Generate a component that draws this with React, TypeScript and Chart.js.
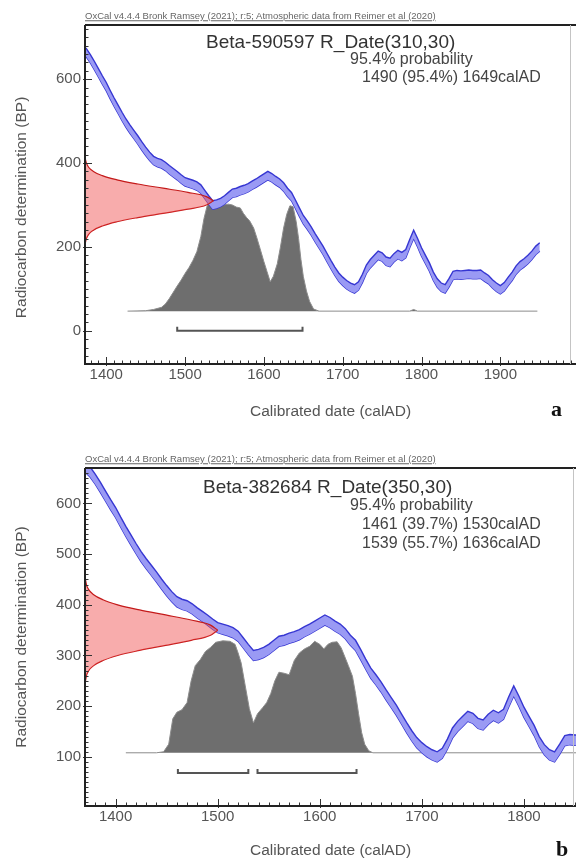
import React, { useEffect, useRef } from 'react';
import { Chart, registerables } from 'chart.js';

Chart.register(...registerables);

const SANS = '"Liberation Sans", Arial, Helvetica, sans-serif';
const SERIF = '"Liberation Serif", "Times New Roman", serif';

// ---------------- IntCal20 calibration curve ----------------
const curveYears = [
  1370, 1375, 1380, 1385, 1390, 1395, 1400, 1405, 1410, 1415, 1420, 1425, 1430, 1435, 1440, 1445,
  1450, 1455, 1460, 1465, 1470, 1475, 1480, 1485, 1490, 1495, 1500, 1505, 1510, 1515, 1520, 1525,
  1530, 1535, 1540, 1545, 1550, 1555, 1560, 1565, 1570, 1575, 1580, 1585, 1590, 1595, 1600, 1605,
  1610, 1615, 1620, 1625, 1630, 1635, 1640, 1645, 1650, 1655, 1660, 1665, 1670, 1675, 1680, 1685,
  1690, 1695, 1700, 1705, 1710, 1715, 1720, 1725, 1730, 1735, 1740, 1745, 1750, 1755, 1760, 1765,
  1770, 1775, 1780, 1785, 1790, 1795, 1800, 1805, 1810, 1815, 1820, 1825, 1830, 1835, 1840, 1845,
  1850, 1855, 1860, 1865, 1870, 1875, 1880, 1885, 1890, 1895, 1900, 1905, 1910, 1915, 1920, 1925,
  1930, 1935, 1940, 1945, 1950,
];
const curveBP = [
  672, 662, 648, 632, 615, 598, 582, 563, 545, 528, 511, 495, 481, 468, 455, 441,
  428, 416, 406, 401, 398, 392, 384, 377, 370, 362, 355, 352, 349, 345, 338, 325,
  312, 300, 302, 306, 312, 320, 328, 330, 334, 337, 341, 347, 352, 358, 364, 370,
  365, 358, 352, 343, 330, 320, 302, 283, 265, 252, 238, 222, 207, 192, 175, 158,
  142, 128, 118, 110, 104, 100, 107, 125, 147, 160, 170, 180, 176, 166, 163, 174,
  182, 177, 184, 208, 230, 210, 188, 170, 152, 130, 114, 104, 100, 115, 132, 134,
  133, 134, 135, 134, 134, 135, 128, 122, 112, 104, 98, 105, 118, 130, 145, 155,
  162, 170, 180, 192, 200,
];
const curveHalfWidth = 10; // 1-sigma band half width (BP)

// ---------------- Panel a: Beta-590597 R_Date(310,30) ----------------
const aXLabels = [1400, 1500, 1600, 1700, 1800, 1900];
const aYLabels = [0, 200, 400, 600];
const aDistYears = [
  1427, 1450, 1460, 1470, 1475, 1480, 1485, 1490, 1495, 1500, 1505, 1510, 1515, 1520, 1524, 1528,
  1532, 1540, 1548, 1555, 1560, 1565, 1570, 1574, 1578, 1582, 1587, 1591, 1595, 1600, 1604, 1608,
  1612, 1617, 1621, 1625, 1629, 1633, 1637, 1641, 1644, 1647, 1650, 1654, 1658, 1663, 1670, 1785,
  1790, 1795, 1947,
];
const aDistValues = [
  47, 48, 51, 56, 64, 77, 92, 107, 121, 137, 151, 168, 189, 225, 268, 298,
  306, 302, 300, 302, 300, 295, 293, 280, 270, 262, 245, 222, 197, 165, 141, 117,
  130, 160, 200, 245, 278, 298, 296, 260, 220, 170, 130, 95, 70, 52, 47, 47,
  51, 47, 47,
];
const aDistBase = 47;
// measured date 310 ± 30 BP, drawn as a profile on the BP axis (extent in years from the left axis)
const aRedLevels = [210, 220, 230, 240, 250, 260, 270, 280, 290, 300, 310, 320, 330, 340, 350, 360, 370, 380, 390, 400, 410];
const aRedExtent = [0.4, 1.8, 4.6, 10.7, 22, 40.5, 67, 99, 130.6, 154, 163, 154, 130.6, 99, 67, 40.5, 22, 10.7, 4.6, 1.8, 0.4];
const aRanges = [[1490, 1649]];
const aRangeLevel = 0;
const aTexts = ['Beta-590597 R_Date(310,30)', '95.4% probability', '1490 (95.4%) 1649calAD'];

// ---------------- Panel b: Beta-382684 R_Date(350,30) ----------------
const bXLabels = [1400, 1500, 1600, 1700, 1800];
const bYLabels = [100, 200, 300, 400, 500, 600];
const bDistYears = [
  1410, 1440, 1447, 1452, 1456, 1460, 1465, 1470, 1474, 1478, 1483, 1488, 1493, 1498, 1505, 1512,
  1517, 1520, 1523, 1527, 1531, 1535, 1539, 1544, 1548, 1552, 1556, 1560, 1565, 1570, 1575, 1580,
  1585, 1590, 1595, 1600, 1604, 1608, 1612, 1617, 1621, 1625, 1628, 1632, 1635, 1638, 1641, 1644,
  1648, 1652, 1950,
];
const bDistValues = [
  108, 108, 110, 125, 175, 188, 193, 207, 250, 280, 292, 308, 316, 326, 329, 328,
  322, 305, 285, 240, 195, 167, 185, 197, 207, 225, 250, 267, 265, 262, 290, 305,
  313, 318, 328, 322, 313, 322, 326, 327, 315, 295, 280, 259, 225, 185, 148, 125,
  112, 108, 108,
];
const bDistBase = 108;
const bRedLevels = [250, 260, 270, 280, 290, 300, 310, 320, 330, 340, 350, 360, 370, 380, 390, 400, 410, 420, 430, 440, 450];
const bRedExtent = [0.5, 1.4, 3.6, 8.5, 17.6, 32, 53.5, 79, 104, 123, 130, 123, 104, 79, 53.5, 32, 17.6, 8.5, 3.6, 1.4, 0.5];
const bRanges = [[1461, 1530], [1539, 1636]];
const bRangeLevel = 68;
const bTexts = ['Beta-382684 R_Date(350,30)', '95.4% probability', '1461 (39.7%) 1530calAD', '1539 (55.7%) 1636calAD'];

const HEADER = 'OxCal v4.4.4 Bronk Ramsey (2021); r:5; Atmospheric data from Reimer et al (2020)';
const X_TITLE = 'Calibrated date (calAD)';
const Y_TITLE = 'Radiocarbon determination (BP)';

type PanelCfg = {
  height: number;
  xMin: number; xMax: number; yMin: number; yMax: number;
  xLabels: number[]; yLabels: number[];
  xMinor: number; yMinor: number;
  distYears: number[]; distValues: number[]; distBase: number;
  redLevels: number[]; redExtent: number[];
  ranges: number[][]; rangeLevel: number; rangeTick: number;
  padTop: number; xAxisHeight: number; titleBottomPad: number; rightInset: number;
  yTitlePadEnd: number;
};

const framePlugin = {
  id: 'oxcalFrame',
  afterDraw(chart: any, _args: any, opts: any) {
    const { ctx, chartArea: a, scales } = chart;
    const x = scales.x;
    const y = scales.y;
    ctx.save();
    ctx.strokeStyle = '#333';
    ctx.lineWidth = 1;
    for (let v = Math.ceil(x.min / opts.xMinor) * opts.xMinor; v <= x.max; v += opts.xMinor) {
      const px = Math.round(x.getPixelForValue(v)) + 0.5;
      const major = v % 100 === 0;
      ctx.beginPath();
      ctx.moveTo(px, a.bottom + (major ? 2 : 0));
      ctx.lineTo(px, a.bottom - (major ? 7 : 3.5));
      ctx.stroke();
    }
    for (let v = Math.ceil(y.min / opts.yMinor) * opts.yMinor; v <= y.max; v += opts.yMinor) {
      const py = Math.round(y.getPixelForValue(v)) + 0.5;
      const major = opts.yLabels.includes(v);
      ctx.beginPath();
      ctx.moveTo(a.left - (major ? 2 : 0), py);
      ctx.lineTo(a.left + (major ? 7 : 3.5), py);
      ctx.stroke();
    }
    ctx.strokeStyle = '#222';
    ctx.lineWidth = 2;
    ctx.beginPath();
    ctx.moveTo(a.left, a.top);
    ctx.lineTo(a.right, a.top);
    ctx.stroke();
    ctx.beginPath();
    ctx.moveTo(a.left, a.top);
    ctx.lineTo(a.left, a.bottom);
    ctx.lineTo(a.right, a.bottom);
    ctx.stroke();
    ctx.strokeStyle = '#c4c4c4';
    ctx.lineWidth = 1;
    ctx.beginPath();
    ctx.moveTo(a.right - opts.rightInset + 0.5, a.top);
    ctx.lineTo(a.right - opts.rightInset + 0.5, a.bottom);
    ctx.stroke();
    ctx.restore();
  },
};

function buildConfig(p: PanelCfg): any {
  const band = curveYears.map((yr, i) => ({ x: yr, y: curveBP[i] }));
  // split the measurement profile at its peak into an upper and a lower edge (both ordered by year)
  const peak = p.redExtent.indexOf(Math.max(...p.redExtent));
  const redPts = p.redLevels.map((v, i) => ({ x: p.xMin + p.redExtent[i], y: v }));
  const redLower = redPts.slice(0, peak + 1);
  const redUpper = redPts.slice(peak).reverse();

  const datasets: any[] = [
    ...p.ranges.map(([s, e]) => ({
      data: [
        { x: s, y: p.rangeLevel + p.rangeTick },
        { x: s, y: p.rangeLevel },
        { x: e, y: p.rangeLevel },
        { x: e, y: p.rangeLevel + p.rangeTick },
      ],
      borderColor: '#555',
      borderWidth: 2,
      pointRadius: 0,
      fill: false,
      tension: 0,
    })),
    {
      data: redUpper,
      borderColor: '#c41a1a',
      borderWidth: 1.2,
      backgroundColor: 'rgba(240,70,70,0.45)',
      fill: '+1',
      cubicInterpolationMode: 'monotone',
      pointRadius: 0,
    },
    {
      data: redLower,
      borderColor: '#c41a1a',
      borderWidth: 1.2,
      fill: false,
      cubicInterpolationMode: 'monotone',
      pointRadius: 0,
    },
    {
      data: band.map((d) => ({ x: d.x, y: d.y + curveHalfWidth })),
      borderColor: '#3636d2',
      borderWidth: 1.4,
      backgroundColor: '#9a9af4',
      fill: '+1',
      pointRadius: 0,
      tension: 0,
    },
    {
      data: band.map((d) => ({ x: d.x, y: d.y - curveHalfWidth })),
      borderColor: '#3636d2',
      borderWidth: 1.4,
      fill: false,
      pointRadius: 0,
      tension: 0,
    },
    {
      data: p.distYears.map((yr, i) => ({ x: yr, y: p.distValues[i] })),
      borderColor: '#8c8c8c',
      borderWidth: 1,
      backgroundColor: '#6e6e6e',
      fill: { value: p.distBase },
      pointRadius: 0,
      tension: 0,
    },
  ];

  const tickFont = { family: SANS, size: 15 };
  const titleFont = { family: SANS, size: 15.5 };

  return {
    type: 'line',
    data: { datasets },
    plugins: [framePlugin],
    options: {
      animation: false,
      responsive: false,
      maintainAspectRatio: false,
      events: [],
      layout: { padding: { left: 0, right: 0, top: p.padTop, bottom: 0 } },
      plugins: {
        legend: { display: false },
        tooltip: { enabled: false },
        oxcalFrame: {
          xMinor: p.xMinor,
          yMinor: p.yMinor,
          yLabels: p.yLabels,
          rightInset: p.rightInset,
        },
      },
      elements: { point: { radius: 0 } },
      scales: {
        x: {
          type: 'linear',
          min: p.xMin,
          max: p.xMax,
          grid: { display: false, drawTicks: false },
          border: { display: false },
          afterBuildTicks: (s: any) => {
            s.ticks = p.xLabels.map((v) => ({ value: v }));
          },
          ticks: {
            autoSkip: false,
            maxRotation: 0,
            padding: 2,
            color: '#555',
            font: tickFont,
            callback: (v: number) => String(v),
          },
          title: {
            display: true,
            text: X_TITLE,
            color: '#555',
            font: titleFont,
            padding: { top: 0, bottom: p.titleBottomPad },
          },
          afterFit: (s: any) => {
            s.height = p.xAxisHeight;
          },
        },
        y: {
          type: 'linear',
          min: p.yMin,
          max: p.yMax,
          grid: { display: false, drawTicks: false },
          border: { display: false },
          afterBuildTicks: (s: any) => {
            s.ticks = p.yLabels.map((v) => ({ value: v }));
          },
          ticks: {
            autoSkip: false,
            padding: 4,
            color: '#555',
            font: tickFont,
            callback: (v: number) => String(v),
          },
          title: {
            display: true,
            text: Y_TITLE + ' '.repeat(p.yTitlePadEnd),
            color: '#555',
            font: titleFont,
            padding: { top: 12.6, bottom: 0 },
          },
          afterFit: (s: any) => {
            s.width = 85;
          },
        },
      },
    },
  };
}

const panelA: PanelCfg = {
  height: 430,
  xMin: 1373, xMax: 1996, yMin: -79, yMax: 729,
  xLabels: aXLabels, yLabels: aYLabels,
  xMinor: 10, yMinor: 20,
  distYears: aDistYears, distValues: aDistValues, distBase: aDistBase,
  redLevels: aRedLevels, redExtent: aRedExtent,
  ranges: aRanges, rangeLevel: aRangeLevel, rangeTick: 10,
  padTop: 25, xAxisHeight: 66, titleBottomPad: 9.4, rightInset: 6,
  yTitlePadEnd: 6,
};

const panelB: PanelCfg = {
  height: 430,
  xMin: 1370, xMax: 1851, yMin: 3, yMax: 670,
  xLabels: bXLabels, yLabels: bYLabels,
  xMinor: 10, yMinor: 10,
  distYears: bDistYears, distValues: bDistValues, distBase: bDistBase,
  redLevels: bRedLevels, redExtent: bRedExtent,
  ranges: bRanges, rangeLevel: bRangeLevel, rangeTick: 8,
  padTop: 38, xAxisHeight: 54, titleBottomPad: 0.4, rightInset: 3,
  yTitlePadEnd: 0,
};

function Panel({ cfg, top }: { cfg: PanelCfg; top: number }) {
  const ref = useRef<HTMLCanvasElement>(null);
  useEffect(() => {
    const chart = new Chart(ref.current as HTMLCanvasElement, buildConfig(cfg));
    return () => chart.destroy();
  }, [cfg]);
  return (
    <canvas
      ref={ref}
      width={576}
      height={cfg.height}
      style={{ position: 'absolute', left: 0, top, width: 576, height: cfg.height }}
    />
  );
}

function Label({ left, cy, size, children, color = '#444', weight = 400, family = SANS, underline = false }: any) {
  return (
    <div
      style={{
        position: 'absolute',
        left,
        top: cy,
        transform: 'translateY(-50%)',
        fontFamily: family,
        fontSize: size,
        fontWeight: weight,
        color,
        whiteSpace: 'nowrap',
        lineHeight: 1,
        textDecoration: underline ? 'underline' : 'none',
      }}
    >
      {children}
    </div>
  );
}

export default function App() {
  return (
    <div style={{ position: 'fixed', left: 0, top: 0, width: 576, height: 859, overflow: 'hidden', background: '#fff' }}>
      <Panel cfg={panelA} top={0} />
      <Panel cfg={panelB} top={430} />

      <Label left={85} cy={16} size={9.5} color="#666" underline>{HEADER}</Label>
      <Label left={206} cy={41} size={19} color="#333">{aTexts[0]}</Label>
      <Label left={350} cy={59} size={16}>{aTexts[1]}</Label>
      <Label left={362} cy={77} size={16}>{aTexts[2]}</Label>
      <Label left={551} cy={409} size={22} weight={700} family={SERIF} color="#111">a</Label>

      <Label left={85} cy={459} size={9.5} color="#666" underline>{HEADER}</Label>
      <Label left={203} cy={486} size={19} color="#333">{bTexts[0]}</Label>
      <Label left={350} cy={505} size={16}>{bTexts[1]}</Label>
      <Label left={362} cy={524} size={16}>{bTexts[2]}</Label>
      <Label left={362} cy={543} size={16}>{bTexts[3]}</Label>
      <Label left={556} cy={849} size={22} weight={700} family={SERIF} color="#111">b</Label>
    </div>
  );
}
